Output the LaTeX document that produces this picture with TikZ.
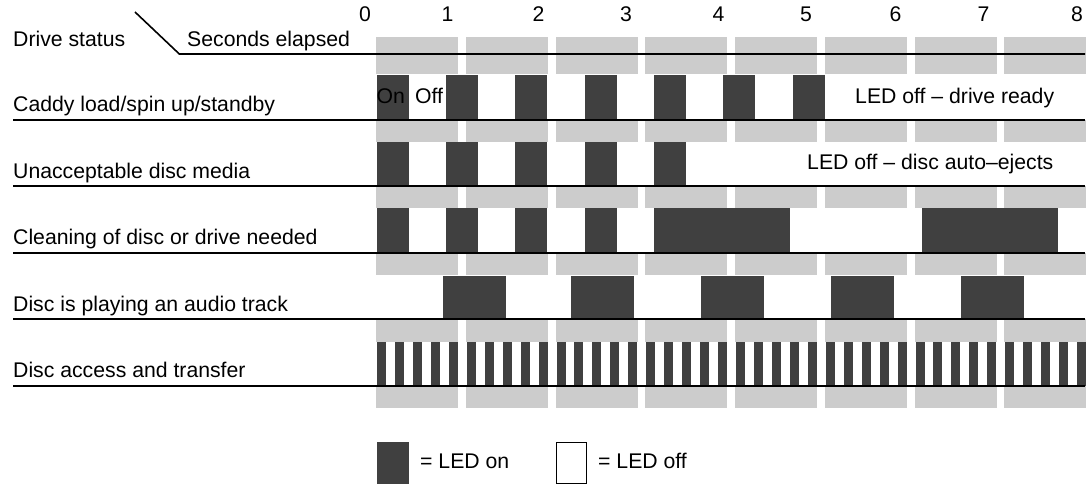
\documentclass[tikz,border=0pt]{standalone}
\usepackage{fontspec}
\setmainfont{Liberation Sans}
\definecolor{ledgray}{HTML}{CCCCCC}
\definecolor{leddark}{HTML}{404040}
\begin{document}
\begin{tikzpicture}[x=1bp,y=-1bp,
  txt/.style={inner sep=0pt, font=\fontsize{21.3}{25}\selectfont},
  lbl/.style={txt, anchor=base west},
  num/.style={txt, anchor=base},
  slot/.style={fill=ledgray},
  ledon/.style={fill=leddark},
  rowline/.style={line width=2bp, black}]
\useasboundingbox (0,0) rectangle (1092,485);

% gray second slots
\foreach \ya/\yb in {37/74,120/142,186.5/208,253/275,319.5/342,386/408}
  \foreach \gx in {376,466,556,645,735,825,915,1004}
    \fill[slot] (\gx,\ya) rectangle (\gx+82,\yb);

% row 1: caddy load
\foreach \dx in {376.7,446,515,585,654,723,793}
  \fill[ledon] (\dx,75) rectangle (\dx+32,120);
% row 2: unacceptable media
\foreach \dx in {376.7,446,515,585,654}
  \fill[ledon] (\dx,142.3) rectangle (\dx+32,186.5);
% row 3: cleaning
\foreach \dx in {376.7,446,515,585}
  \fill[ledon] (\dx,208.3) rectangle (\dx+32,253);
\fill[ledon] (654,208.3) rectangle (790,253);
\fill[ledon] (922,208.3) rectangle (1057.7,253);
% row 4: audio
\foreach \dx in {443,571,701,831,961}
  \fill[ledon] (\dx,276) rectangle (\dx+63,319.5);
% row 5: access
\foreach \k in {0,...,39}
  \fill[ledon] (377+17.95*\k,341.7) rectangle (386+17.95*\k,386);

% header
\coordinate (dtop) at (135,12);
\coordinate (dbot) at (179.3,54);
\coordinate (hend) at (1085,54);
\draw[line width=1.6bp] (dtop) -- (dbot) -- (hend);

% row lines
\foreach \ly in {120,186.5,253,319.5,386}
  \draw[rowline] (13,\ly) -- (1085,\ly);

% texts
\node[lbl] (ds) at (13,46.7) {Drive status};
\node[lbl] (se) at (187,46.7) {Seconds elapsed};
\foreach \n/\nx in {0/365,1/447.5,2/538.5,3/626,4/718.5,5/806,6/895.5,7/983.5,8/1077}
  \node[num] (n\n) at (\nx,22) {\n};

\node[lbl] (r1) at (13,112) {Caddy load/spin up/standby};
\node[lbl] (r2) at (13,178.5) {Unacceptable disc media};
\node[lbl] (r3) at (13,245) {Cleaning of disc or drive needed};
\node[lbl] (r4) at (13,311.5) {Disc is playing an audio track};
\node[lbl] (r5) at (13,378) {Disc access and transfer};

\node[lbl] (on) at (376.5,103.5) {On};
\node[lbl] (off) at (415,103.5) {Off};
\node[lbl] (m1) at (855,103.5) {LED off – drive ready};
\node[lbl] (m2) at (807,170) {LED off – disc auto–ejects};

% legend
\fill[ledon] (376.7,442) rectangle (409,484);
\node[lbl] (lon) at (420,468.5) {= LED on};
\draw[line width=1bp] (556.5,442.5) rectangle (586.5,483.5);
\node[lbl] (loff) at (598,468.5) {= LED off};
\end{tikzpicture}
\end{document}
